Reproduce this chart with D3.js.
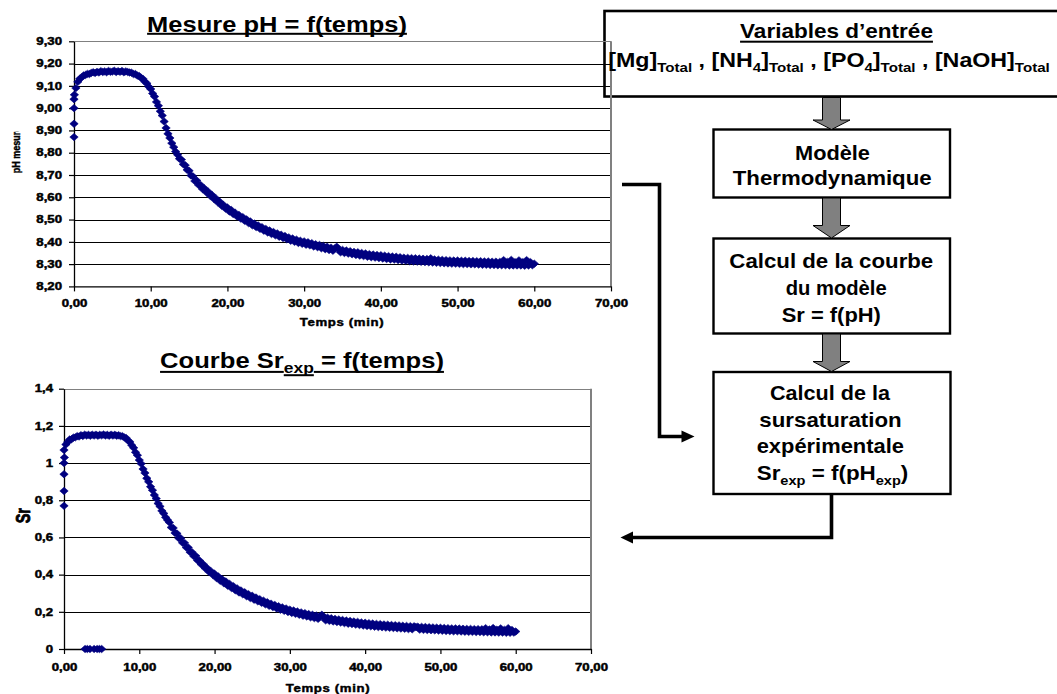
<!DOCTYPE html>
<html><head><meta charset="utf-8">
<script src="https://cdn.jsdelivr.net/npm/d3@7"></script>
<style>
html,body{margin:0;padding:0;background:#fff;}
svg{display:block;}
</style></head><body>
<svg id="fig" width="1057" height="694"></svg>
<script>
// Acquisition interval of the pH probe (minutes between two readings)
const SAMPLE_STEP_MIN = 0.25;

// Measured pH, one reading every SAMPLE_STEP_MIN from t = 0 to t = 60 min
const phMeasured = [
  9.040, 9.090, 9.118, 9.132, 9.138, 9.147, 9.149, 9.154,
  9.153, 9.158, 9.161, 9.158, 9.163, 9.160, 9.166, 9.162,
  9.165, 9.161, 9.167, 9.163, 9.164, 9.168, 9.162, 9.166,
  9.163, 9.167, 9.161, 9.165, 9.162, 9.160, 9.159, 9.153,
  9.153, 9.146, 9.144, 9.135, 9.131, 9.118, 9.111, 9.096,
  9.086, 9.066, 9.052, 9.028, 9.011, 8.986, 8.967, 8.940,
  8.911, 8.885, 8.866, 8.843, 8.825, 8.805, 8.791, 8.773,
  8.769, 8.748, 8.744, 8.723, 8.719, 8.698, 8.694, 8.673,
  8.675, 8.655, 8.655, 8.637, 8.640, 8.622, 8.625, 8.607,
  8.610, 8.592, 8.595, 8.577, 8.580, 8.562, 8.565, 8.549,
  8.554, 8.536, 8.543, 8.525, 8.531, 8.514, 8.521, 8.504,
  8.511, 8.494, 8.501, 8.484, 8.491, 8.474, 8.482, 8.466,
  8.474, 8.458, 8.466, 8.450, 8.458, 8.442, 8.451, 8.435,
  8.444, 8.429, 8.438, 8.423, 8.432, 8.417, 8.426, 8.411,
  8.420, 8.405, 8.415, 8.400, 8.410, 8.395, 8.405, 8.391,
  8.402, 8.387, 8.398, 8.384, 8.394, 8.379, 8.389, 8.376,
  8.386, 8.371, 8.382, 8.367, 8.378, 8.363, 8.374, 8.360,
  8.370, 8.378, 8.367, 8.353, 8.364, 8.350, 8.361, 8.347,
  8.358, 8.344, 8.355, 8.341, 8.353, 8.338, 8.350, 8.336,
  8.348, 8.333, 8.345, 8.331, 8.343, 8.329, 8.341, 8.327,
  8.340, 8.325, 8.338, 8.323, 8.336, 8.321, 8.334, 8.320,
  8.333, 8.318, 8.331, 8.316, 8.329, 8.315, 8.328, 8.313,
  8.327, 8.312, 8.326, 8.311, 8.325, 8.310, 8.324, 8.309,
  8.323, 8.308, 8.326, 8.307, 8.321, 8.306, 8.320, 8.305,
  8.319, 8.304, 8.318, 8.303, 8.317, 8.302, 8.316, 8.302,
  8.316, 8.301, 8.315, 8.300, 8.315, 8.300, 8.314, 8.299,
  8.314, 8.299, 8.313, 8.298, 8.313, 8.297, 8.312, 8.297,
  8.312, 8.296, 8.311, 8.296, 8.311, 8.295, 8.310, 8.295,
  8.318, 8.295, 8.310, 8.294, 8.319, 8.294, 8.309, 8.294,
  8.317, 8.294, 8.309, 8.293, 8.318, 8.294, 8.309, 8.295,
  8.302
];
// First readings while the probe settles (t ~ 0)
const phStartTimes  = [0, 0, 0, 0.05];
const phStartValues = [8.87, 8.93, 9.00, 9.06];

// Experimental supersaturation ratio computed from each pH reading
const srExperimental = [
  1.070, 1.100, 1.113, 1.127, 1.128, 1.137, 1.138, 1.145,
  1.143, 1.150, 1.146, 1.153, 1.148, 1.152, 1.147, 1.153,
  1.148, 1.153, 1.147, 1.152, 1.149, 1.154, 1.148, 1.152,
  1.147, 1.153, 1.148, 1.152, 1.147, 1.150, 1.145, 1.145,
  1.138, 1.135, 1.121, 1.114, 1.096, 1.082, 1.058, 1.042,
  1.016, 0.997, 0.968, 0.947, 0.918, 0.899, 0.873, 0.854,
  0.828, 0.809, 0.783, 0.767, 0.743, 0.729, 0.708, 0.694,
  0.681, 0.654, 0.651, 0.624, 0.621, 0.596, 0.596, 0.571,
  0.571, 0.546, 0.546, 0.521, 0.521, 0.499, 0.501, 0.476,
  0.476, 0.454, 0.456, 0.434, 0.436, 0.415, 0.419, 0.399,
  0.405, 0.382, 0.390, 0.367, 0.376, 0.353, 0.363, 0.340,
  0.350, 0.328, 0.338, 0.316, 0.326, 0.304, 0.315, 0.294,
  0.305, 0.284, 0.295, 0.274, 0.286, 0.265, 0.277, 0.256,
  0.268, 0.248, 0.260, 0.240, 0.252, 0.232, 0.244, 0.225,
  0.237, 0.218, 0.230, 0.211, 0.224, 0.205, 0.218, 0.199,
  0.212, 0.194, 0.207, 0.189, 0.202, 0.184, 0.197, 0.179,
  0.193, 0.175, 0.188, 0.170, 0.184, 0.166, 0.180, 0.162,
  0.176, 0.184, 0.172, 0.154, 0.169, 0.151, 0.165, 0.148,
  0.162, 0.145, 0.159, 0.142, 0.156, 0.139, 0.153, 0.136,
  0.151, 0.134, 0.148, 0.131, 0.146, 0.129, 0.143, 0.126,
  0.141, 0.124, 0.139, 0.122, 0.137, 0.120, 0.135, 0.118,
  0.134, 0.117, 0.132, 0.115, 0.131, 0.114, 0.129, 0.113,
  0.128, 0.111, 0.127, 0.110, 0.125, 0.109, 0.124, 0.107,
  0.123, 0.106, 0.122, 0.118, 0.120, 0.104, 0.119, 0.103,
  0.118, 0.102, 0.117, 0.101, 0.116, 0.100, 0.115, 0.099,
  0.114, 0.098, 0.113, 0.097, 0.112, 0.096, 0.111, 0.095,
  0.111, 0.095, 0.110, 0.094, 0.109, 0.093, 0.108, 0.092,
  0.108, 0.092, 0.107, 0.091, 0.107, 0.091, 0.106, 0.090,
  0.112, 0.090, 0.105, 0.089, 0.113, 0.089, 0.104, 0.088,
  0.111, 0.088, 0.103, 0.087, 0.112, 0.087, 0.102, 0.088,
  0.094
];
const srStartTimes  = [0, 0, 0, 0, 0.05];
const srStartValues = [0.77, 0.85, 0.94, 1.00, 1.03];
// Readings with no pH value give Sr = 0
const srGapTimes  = [2.8, 3.1, 3.45, 4.0, 4.4, 4.7, 5.0];
const srGapValues = [0, 0, 0, 0, 0, 0, 0];

// Axis ticks
const timeTicks = [0, 10, 20, 30, 40, 50, 60, 70];
const phTicks = [8.2, 8.3, 8.4, 8.5, 8.6, 8.7, 8.8, 8.9, 9.0, 9.1, 9.2, 9.3];
const srTicks = [0, 0.2, 0.4, 0.6, 0.8, 1.0, 1.2, 1.4];

const fr = d3.formatLocale({decimal: ",", thousands: " ", grouping: [3], currency: ["", " €"]});
const fmt2 = fr.format(".2f");
const fmtSr = fr.format(".1~f");

const svg = d3.select("#fig");
const ARIAL = "'Liberation Sans', Arial, Helvetica, sans-serif";
const NAVY = "#000080";
// the chart artwork is wider than tall: its lettering is stretched horizontally
const CHART_STRETCH = 1.32;

// ---------- text helper: bold line with optional subscripts, stretched to a given width ----------
function richText(parent, o) {
  const g = parent.append("g");
  const t = g.append("text")
    .attr("x", 0).attr("y", 0)
    .attr("text-anchor", o.anchor || "middle")
    .style("font-family", ARIAL)
    .style("font-weight", "bold")
    .style("font-size", o.size + "px")
    .attr("fill", "#000");
  let shift = 0;
  const spans = [];
  o.parts.forEach(p => {
    const isSub = Array.isArray(p);
    const txt = isSub ? p[0] : p;
    const target = isSub ? o.subShift : 0;
    const sp = t.append("tspan").attr("dy", target - shift).text(txt);
    if (isSub) sp.style("font-size", o.subSize + "px");
    shift = target;
    spans.push({node: sp.node(), sub: isSub});
  });
  const w = t.node().getComputedTextLength();
  const s = o.width ? o.width / w : 1;
  g.attr("transform", `translate(${o.x},${o.y}) scale(${s},1)`);
  if (o.underline) {
    spans.forEach(sp => {
      const n = sp.node.getNumberOfChars();
      if (!n) return;
      const x0 = sp.node.getStartPositionOfChar(0).x;
      const x1 = sp.node.getEndPositionOfChar(n - 1).x;
      const uy = (sp.sub ? o.subShift + o.subUnderline : o.underline);
      g.append("rect").attr("x", x0).attr("width", x1 - x0)
        .attr("y", uy - 1).attr("height", 2).attr("fill", "#000");
    });
  }
  return g;
}

// heavier chart lettering
function heavy(sel, w) {
  return sel.attr("stroke", "#000").attr("stroke-width", w).attr("stroke-linejoin", "round");
}

// ---------- first flowchart box (the top chart overlaps it) ----------
svg.append("rect").attr("x", 604.5).attr("y", 11).attr("width", 470).attr("height", 85.5)
  .attr("fill", "#fff").attr("stroke", "#000").attr("stroke-width", 2.6);

// ---------- scatter chart ----------
function stretchTexts(sel, k) {
  sel.each(function () {
    const t = d3.select(this);
    const x = +(t.attr("x") || 0);
    t.attr("x", x / k).attr("transform", `scale(${k},1)`);
  });
}

function drawChart(c) {
  const g = svg.append("g");
  const x = d3.scaleLinear().domain([0, 70]).range([c.x0, c.x1]);
  const y = d3.scaleLinear().domain(c.yDomain).range([c.yBot, c.yTop]);

  // horizontal gridlines
  g.selectAll("line.grid").data(c.yTicks.slice(1, -1)).join("line")
    .attr("x1", c.x0).attr("x2", c.x1)
    .attr("y1", d => Math.round(y(d)) + 0.5).attr("y2", d => Math.round(y(d)) + 0.5)
    .attr("stroke", "#000").attr("stroke-width", 1);
  // plot-area frame (top and right edges)
  g.append("line").attr("x1", c.x0).attr("x2", c.x1)
    .attr("y1", Math.round(c.yTop) + 0.5).attr("y2", Math.round(c.yTop) + 0.5)
    .attr("stroke", "#808080").attr("stroke-width", 1.2);
  g.append("line").attr("x1", c.x1).attr("x2", c.x1)
    .attr("y1", c.yTop).attr("y2", c.yBot)
    .attr("stroke", "#808080").attr("stroke-width", 2);

  const yAxis = g.append("g").attr("transform", `translate(${c.x0},0)`)
    .call(d3.axisLeft(y).tickValues(c.yTicks).tickFormat(c.yFmt).tickSize(5).tickSizeOuter(0).tickPadding(c.yPad));
  const xAxis = g.append("g").attr("transform", `translate(0,${c.yBot})`)
    .call(d3.axisBottom(x).tickValues(timeTicks).tickFormat(fmt2).tickSize(5).tickSizeOuter(0).tickPadding(c.xPad));
  [yAxis, xAxis].forEach(a => {
    a.selectAll("path.domain").attr("stroke", "#000").attr("stroke-width", 1.3);
    a.selectAll(".tick line").attr("stroke", "#000").attr("stroke-width", 1.2);
    heavy(a.selectAll("text").style("font-family", ARIAL).style("font-weight", "bold")
      .style("font-size", "10px").attr("fill", "#000"), 0.45);
    stretchTexts(a.selectAll("text"), CHART_STRETCH);
  });

  // markers
  const diamond = "M0,-3.7L4.2,0L0,3.7L-4.2,0Z";
  g.append("g").selectAll("path").data(c.points).join("path")
    .attr("d", diamond)
    .attr("transform", d => `translate(${x(d.t)},${y(d.v)})`)
    .attr("fill", NAVY).attr("stroke", NAVY).attr("stroke-width", 0.6);

  // x-axis title
  heavy(g.append("text")
    .attr("transform", `translate(${c.xTitleX},${c.xTitleY}) scale(${CHART_STRETCH},1)`)
    .attr("text-anchor", "middle")
    .style("font-family", ARIAL).style("font-weight", "bold").style("font-size", "10px")
    .style("letter-spacing", "0.5px").attr("fill", "#000").text("Temps (min)"), 0.4);
  return {g, x, y};
}

const phPoints = phMeasured.map((v, i) => ({t: i * SAMPLE_STEP_MIN, v}))
  .concat(phStartTimes.map((t, i) => ({t, v: phStartValues[i]})));
const srPoints = srExperimental.map((v, i) => ({t: i * SAMPLE_STEP_MIN, v}))
  .concat(srStartTimes.map((t, i) => ({t, v: srStartValues[i]})))
  .concat(srGapTimes.map((t, i) => ({t, v: srGapValues[i]})));

drawChart({
  x0: 74, x1: 611, yTop: 41.3, yBot: 286.4, yDomain: [8.2, 9.3],
  yTicks: phTicks, yFmt: fmt2, yPad: 7, xPad: 9,
  points: phPoints, xTitleX: 342, xTitleY: 325.5
});
drawChart({
  x0: 64, x1: 591, yTop: 388.7, yBot: 649, yDomain: [0, 1.4],
  yTicks: srTicks, yFmt: fmtSr, yPad: 6, xPad: 9.5,
  points: srPoints, xTitleX: 328, xTitleY: 691.5
});

// chart titles
richText(svg, {x: 277, y: 31.5, size: 22, width: 260, parts: ["Mesure pH = f(temps)"],
  underline: 2.3});
richText(svg, {x: 302, y: 368.3, size: 22, subSize: 15, subShift: 4.5, width: 284,
  parts: ["Courbe Sr", ["exp"], " = f(temps)"], underline: 3.6, subUnderline: 2.4});

// y-axis titles (rotated, so the chart stretch acts across the letters)
svg.append("clipPath").attr("id", "phLabClip").append("rect")
  .attr("x", 0).attr("y", 131.5).attr("width", 40).attr("height", 60);
heavy(svg.append("g").attr("clip-path", "url(#phLabClip)").append("text")
  .attr("transform", `translate(20,173.3) rotate(-90) scale(1,${CHART_STRETCH * 0.85})`)
  .attr("text-anchor", "start")
  .style("font-family", ARIAL).style("font-weight", "bold").style("font-size", "9px")
  .attr("fill", "#000").text("pH mesuré"), 0.4);
heavy(svg.append("text")
  .attr("transform", `translate(30,515.7) rotate(-90) scale(1,${CHART_STRETCH * 1.04})`)
  .attr("text-anchor", "middle")
  .style("font-family", ARIAL).style("font-weight", "bold").style("font-size", "14.5px")
  .attr("fill", "#000").text("Sr"), 0.6);

// ---------- flowchart boxes, block arrows and connectors ----------
const flowTop = svg.append("g");
const boxes = [
  {x: 713.5, y: 129.5, w: 236.5, h: 68},
  {x: 713.5, y: 238.5, w: 236.5, h: 95},
  {x: 713.5, y: 372, w: 237, h: 122}
];
flowTop.selectAll("rect").data(boxes).join("rect")
  .attr("x", d => d.x).attr("y", d => d.y).attr("width", d => d.w).attr("height", d => d.h)
  .attr("fill", "#fff").attr("stroke", "#000").attr("stroke-width", 2.4);

// grey block arrows between the boxes: [top of shaft, start of head, tip]
const blockArrows = [[97.5, 120, 129.5], [198, 225.5, 238], [334, 361.5, 371.5]];
flowTop.selectAll("path.block").data(blockArrows).join("path")
  .attr("d", d => `M822.5,${d[0]}H840.5V${d[1]}H850L831.5,${d[2]}L813,${d[1]}H822.5Z`)
  .attr("fill", "#808080").attr("stroke", "#000").attr("stroke-width", 1);

// black connectors
flowTop.append("path").attr("d", "M622,184.5H659.5V436.5H683")
  .attr("fill", "none").attr("stroke", "#000").attr("stroke-width", 3.6);
flowTop.append("path").attr("d", "M681.5,430.5L694.5,436.5L681.5,442.5Z").attr("fill", "#000");
flowTop.append("path").attr("d", "M831.5,494V537.5H631")
  .attr("fill", "none").attr("stroke", "#000").attr("stroke-width", 3.6);
flowTop.append("path").attr("d", "M633,531.5L620.5,537.5L633,543.5Z").attr("fill", "#000");

// box texts
const fl = (x, y, width, parts) => richText(flowTop, {x, y, size: 20, subSize: 13, subShift: 5, width, parts});
richText(flowTop, {x: 836.5, y: 38.3, size: 20, width: 193, parts: ["Variables d’entrée"], underline: 3.4});
fl(829, 66.8, 442, ["[Mg]", ["Total"], " , [NH", ["4"], "]", ["Total"], " , [PO", ["4"], "]", ["Total"], " , [NaOH]", ["Total"]]);
fl(832.5, 160, 75, ["Modèle"]);
fl(832.2, 185, 199, ["Thermodynamique"]);
fl(831.3, 268.3, 204, ["Calcul de la courbe"]);
fl(836.2, 295, 101, ["du modèle"]);
fl(831.3, 321.7, 99.3, ["Sr = f(pH)"]);
fl(830, 400, 120, ["Calcul de la"]);
fl(830.5, 426.7, 142.4, ["sursaturation"]);
fl(830.3, 453.3, 147.3, ["expérimentale"]);
fl(832.5, 480, 151.7, ["Sr", ["exp"], " = f(pH", ["exp"], ")"]);
</script>
</body></html>
